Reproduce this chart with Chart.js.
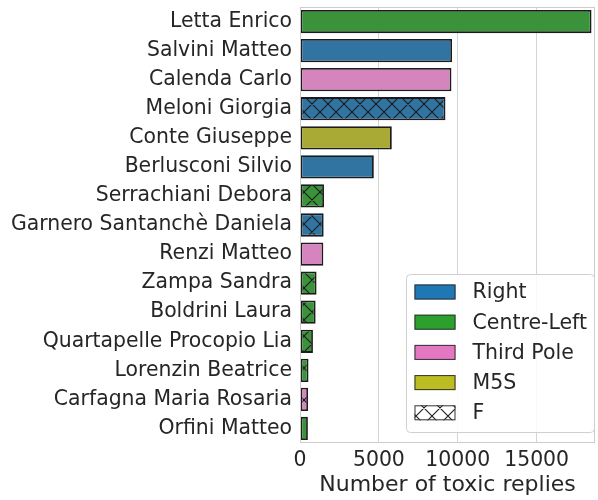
<!DOCTYPE html>
<html>
<head>
<meta charset="utf-8">
<script src="https://cdn.jsdelivr.net/npm/chart.js@4"></script>
<style>
  html, body { margin: 0; padding: 0; background: #fff; }
  #wrap { width: 598px; height: 500px; }
</style>
</head>
<body>
<div id="wrap"><canvas id="toxic-chart" width="598" height="500"></canvas></div>
<script>
// politicians, sorted by number of toxic replies
const names = [
    'Letta Enrico', 'Salvini Matteo', 'Calenda Carlo', 'Meloni Giorgia',
    'Conte Giuseppe', 'Berlusconi Silvio', 'Serrachiani Debora',
    'Garnero Santanchè Daniela', 'Renzi Matteo', 'Zampa Sandra',
    'Boldrini Laura', 'Quartapelle Procopio Lia', 'Lorenzin Beatrice',
    'Carfagna Maria Rosaria', 'Orfini Matteo'
];
const toxicReplies = [18480, 9640, 9600, 9220, 5820, 4680, 1520, 1500, 1480, 1050, 990, 820, 540, 510, 500];
const parties = [
    'Centre-Left', 'Right', 'Third Pole', 'Right', 'M5S', 'Right', 'Centre-Left',
    'Right', 'Third Pole', 'Centre-Left', 'Centre-Left', 'Centre-Left', 'Centre-Left',
    'Third Pole', 'Centre-Left'
];
const genders = ['M', 'M', 'M', 'F', 'M', 'M', 'F', 'F', 'M', 'F', 'F', 'F', 'F', 'F', 'M'];

const partyNames = ['Right', 'Centre-Left', 'Third Pole', 'M5S'];
const barColors = ['#3274a1', '#3a923a', '#d684bd', '#a9aa35'];   // seaborn desaturated
const legendColors = ['#1f77b4', '#2ca02c', '#e377c2', '#bcbd22'];
const hatchLabel = 'F';
const xTicks = [0, 5000, 10000, 15000];
const xMax = 18700;

const FONT = "'DejaVu Sans', sans-serif";
const TEXT = '#262626';
const EDGE = '#1c1c1c';

// cross hatch like matplotlib 'x' (6 lines per inch at 100 dpi)
function makeHatch(color) {
    const tile = document.createElement('canvas');
    tile.width = 48;
    tile.height = 48;
    const c = tile.getContext('2d');
    c.fillStyle = color;
    c.fillRect(0, 0, 48, 48);
    c.strokeStyle = EDGE;
    c.lineWidth = 1.1;
    const p = 16;
    c.beginPath();
    for (let k = -4; k <= 7; k++) {
        c.moveTo(k * p - 5, -5);
        c.lineTo(k * p + 53, 53);
        c.moveTo(k * p + 5, -5);
        c.lineTo(k * p - 53, 53);
    }
    c.stroke();
    return c.createPattern(tile, 'repeat');
}

const fills = names.map((n, i) => {
    const col = barColors[partyNames.indexOf(parties[i])];
    return genders[i] === 'F' ? makeHatch(col) : col;
});

const frameAndLegend = {
    id: 'frameAndLegend',
    afterDraw(chart) {
        const ctx = chart.ctx;
        const a = chart.chartArea;
        ctx.save();
        // spines
        ctx.strokeStyle = '#cccccc';
        ctx.lineWidth = 1;
        ctx.strokeRect(a.left + 0.5, a.top + 0.5, a.right - a.left - 1, a.bottom - a.top - 1);

        // legend box
        const bw = 188, bh = 158;
        const bx = a.right - bw - 0.5, by = a.bottom - bh - 10.5;
        ctx.beginPath();
        ctx.roundRect(bx, by, bw, bh, 4);
        ctx.fillStyle = 'rgba(255,255,255,0.85)';
        ctx.fill();
        ctx.strokeStyle = '#d0d0d0';
        ctx.stroke();

        const labels = partyNames.concat([hatchLabel]);
        const swatches = legendColors.concat([makeHatch('#ffffff')]);
        ctx.font = '20.5px ' + FONT;
        ctx.textBaseline = 'middle';
        labels.forEach((lab, i) => {
            const cy = by + 17.5 + i * 30.2;
            ctx.fillStyle = swatches[i];
            ctx.fillRect(bx + 8, cy - 7.5, 41, 15);
            ctx.strokeStyle = '#333333';
            ctx.lineWidth = 1;
            ctx.strokeRect(bx + 8.5, cy - 7, 40, 14);
            ctx.fillStyle = TEXT;
            ctx.fillText(lab, bx + 66, cy + 1);
        });
        ctx.restore();
    }
};

new Chart(document.getElementById('toxic-chart'), {
    type: 'bar',
    data: {
        labels: names,
        datasets: [{
            data: toxicReplies,
            backgroundColor: fills,
            borderColor: EDGE,
            borderWidth: 1.8,
            borderSkipped: false,
            barPercentage: 0.8,
            categoryPercentage: 1.0
        }]
    },
    options: {
        indexAxis: 'y',
        responsive: false,
        animation: false,
        layout: { padding: { left: 0, right: 3, top: 7, bottom: 0 } },
        plugins: {
            legend: { display: false },
            tooltip: { enabled: false }
        },
        scales: {
            x: {
                min: 0,
                max: xMax,
                afterFit: (s) => { s.height = 57; s.paddingLeft = 0; s.paddingRight = 0; },
                afterBuildTicks: (s) => { s.ticks = xTicks.map(v => ({ value: v })); },
                grid: { color: '#d5d5d5', lineWidth: 1, drawTicks: false },
                border: { display: false },
                ticks: {
                    padding: 5,
                    color: TEXT,
                    font: { family: FONT, size: 20.4 },
                    callback: (v) => String(v)
                },
                title: {
                    display: true,
                    text: 'Number of toxic replies',
                    color: TEXT,
                    font: { family: FONT, size: 22 },
                    padding: { top: 0, bottom: 2 }
                }
            },
            y: {
                afterFit: (s) => { s.width = 300; s.paddingTop = 0; s.paddingBottom = 0; },
                grid: { display: false, drawTicks: false },
                border: { display: false },
                ticks: {
                    padding: 8,
                    color: TEXT,
                    font: { family: FONT, size: 20.4 }
                }
            }
        }
    },
    plugins: [frameAndLegend]
});
</script>
</body>
</html>
